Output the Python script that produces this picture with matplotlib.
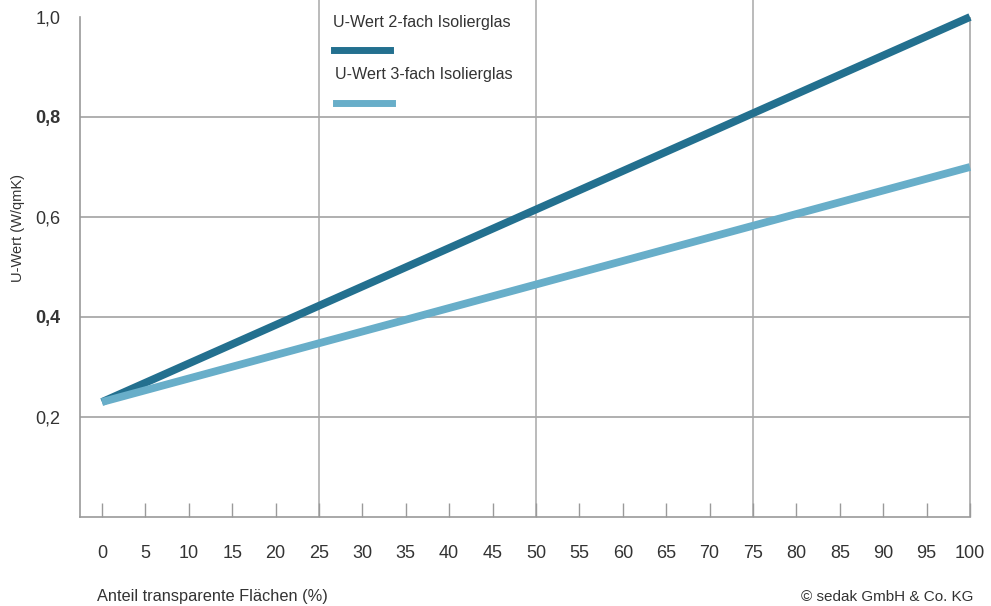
import numpy as np
import matplotlib.pyplot as plt

plt.rcParams['font.family'] = ['Liberation Sans', 'DejaVu Sans']

# Anteil transparente Flaechen (%) and U-Werte
anteil = [0, 100]
u_2fach = [0.23, 1.0]
u_3fach = [0.23, 0.70]

x_ticks = list(range(0, 101, 5))
y_ticks = [0.2, 0.4, 0.6, 0.8, 1.0]
y_labels = ['0,2', '0,4', '0,6', '0,8', '1,0']
grid_x = [25, 50, 75]

dark = '#23708f'
light = '#68aec9'
grey = '#9a9a9a'
txt = '#333333'

fig = plt.figure(figsize=(9.91, 6.06), dpi=100)
ax = fig.add_axes([80 / 991, 1 - 517 / 606, 890 / 991, 517 / 606])
ax.set_xlim(-2.53, 100)
ax.set_ylim(0, 1.034)

for s in ['top', 'right']:
    ax.spines[s].set_visible(False)
for s in ['left', 'bottom']:
    ax.spines[s].set_color(grey)
    ax.spines[s].set_linewidth(1.2)
ax.spines['left'].set_bounds(0, 1.0)

# Gitter
for y in y_ticks[:-1]:
    ax.axhline(y, color=grey, lw=1.1, zorder=1)
for x in grid_x:
    ax.axvline(x, color='#a8a8a8', lw=1.1, zorder=1)
ax.vlines(100, 0, 1.0, color='#a8a8a8', lw=1.2, zorder=1, clip_on=False)

ax.plot(anteil, u_2fach, color=dark, lw=5.6, solid_capstyle='butt', zorder=3, clip_on=False)
ax.plot(anteil, u_3fach, color=light, lw=5.6, solid_capstyle='butt', zorder=3, clip_on=False)

ax.set_xticks(x_ticks)
ax.set_xticklabels([str(v) for v in x_ticks], fontsize=13, color=txt)
ax.tick_params(axis='x', direction='in', length=10, width=1, color=grey, pad=20)

ax.set_yticks(y_ticks)
ax.set_yticklabels(y_labels, fontsize=13, color=txt)
ax.tick_params(axis='y', length=0, pad=14)
for lbl in ax.get_yticklabels():
    if lbl.get_text() in ('0,4', '0,8'):
        lbl.set_fontweight('bold')

fig.text(18 / 991, 1 - 228 / 606, 'U-Wert (W/qmK)', rotation=90, ha='center', va='center',
         fontsize=10.5, color=txt)
fig.text(97 / 991, 1 - 597 / 606, 'Anteil transparente Flächen (%)', ha='left', va='center',
         fontsize=11.8, color=txt)
fig.text(973 / 991, 1 - 597 / 606, '© sedak GmbH & Co. KG', ha='right', va='center',
         fontsize=11, color=txt)

# Legende
fig.text(333 / 991, 1 - 22 / 606, 'U-Wert 2-fach Isolierglas', ha='left', va='center',
         fontsize=11.6, color=txt)
fig.add_artist(plt.Line2D([334 / 991, 390 / 991], [1 - 50 / 606] * 2, color=dark, lw=5))
fig.text(335 / 991, 1 - 75 / 606, 'U-Wert 3-fach Isolierglas', ha='left', va='center',
         fontsize=11.6, color=txt)
fig.add_artist(plt.Line2D([336 / 991, 392 / 991], [1 - 103 / 606] * 2, color=light, lw=5))

fig.savefig('out.png', dpi=100, facecolor='white')
